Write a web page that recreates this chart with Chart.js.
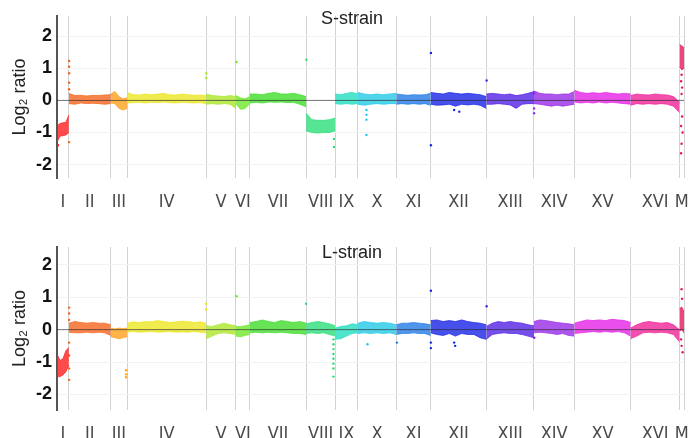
<!DOCTYPE html>
<html>
<head>
<meta charset="utf-8">
<title>S-strain / L-strain</title>
<script src="https://cdn.jsdelivr.net/npm/chart.js@4.4.1/dist/chart.umd.min.js"></script>
<style>
    body { margin: 0; background: #fff; }
    .panel { position: absolute; left: 0; width: 692px; height: 219px; }
    #top { top: 0; }
    #bottom { top: 219px; }
</style>
</head>
<body>
<div class="panel" id="top"><canvas id="chartS"></canvas></div>
<div class="panel" id="bottom"><canvas id="chartL"></canvas></div>
<script>
// Cromosomas de levadura (tamaño en kb)
const chromNames = ['I', 'II', 'III', 'IV', 'V', 'VI', 'VII', 'VIII', 'IX', 'X', 'XI', 'XII', 'XIII', 'XIV', 'XV', 'XVI', 'M'];
const chromSizes = [230, 813, 317, 1532, 577, 270, 1091, 563, 440, 746, 667, 1078, 924, 784, 1091, 948, 86];
const yTicks = [-2, -1, 0, 1, 2];

// S-strain: borde superior / inferior de la nube de puntos por cromosoma (log2 ratio)
const sHigh = [
    [-0.8, -0.72, -0.7, -0.68, -0.45],
    [0.22, 0.15, 0.16, 0.14, 0.16, 0.15, 0.17, 0.18],
    [0.2, 0.28, 0.12, 0.05, 0.08],
    [0.25, 0.18, 0.17, 0.2, 0.18, 0.2, 0.22, 0.18, 0.17, 0.2, 0.18, 0.16, 0.17, 0.15],
    [0.2, 0.15, 0.14, 0.12, 0.15, 0.12],
    [0.15, 0.08, 0.05, 0.12],
    [0.2, 0.2, 0.18, 0.22, 0.25, 0.2, 0.2, 0.22, 0.18, 0.12],
    [-0.4, -0.6, -0.62, -0.62, -0.6, -0.55],
    [0.2, 0.18, 0.22, 0.25, 0.2],
    [0.25, 0.2, 0.18, 0.2, 0.18, 0.2, 0.22],
    [0.2, 0.18, 0.16, 0.18, 0.17, 0.18, 0.22],
    [0.25, 0.22, 0.2, 0.25, 0.22, 0.2, 0.22, 0.2, 0.18, 0.12],
    [0.2, 0.22, 0.2, 0.18, 0.2, 0.15, 0.18, 0.22, 0.28],
    [0.3, 0.22, 0.2, 0.2, 0.18, 0.2, 0.2, 0.28],
    [0.32, 0.25, 0.22, 0.24, 0.22, 0.25, 0.22, 0.2, 0.22, 0.2],
    [0.15, 0.2, 0.18, 0.17, 0.2, 0.18, 0.17, 0.12, -0.05],
    [1.75, 1.7, 1.65]
];
const sLow = [
    [-1.3, -1.12, -1.1, -1.08, -1.0],
    [-0.1, -0.12, -0.08, -0.1, -0.09, -0.1, -0.12, -0.1],
    [-0.08, -0.1, -0.25, -0.3, -0.25],
    [-0.08, -0.07, -0.06, -0.08, -0.06, -0.07, -0.05, -0.07, -0.08, -0.06, -0.07, -0.08, -0.07, -0.1],
    [-0.12, -0.1, -0.12, -0.1, -0.12, -0.25],
    [-0.1, -0.28, -0.25, -0.1],
    [-0.08, -0.06, -0.08, -0.05, -0.06, -0.05, -0.07, -0.06, -0.12, -0.2],
    [-0.95, -1.0, -1.02, -1.0, -1.0, -0.95],
    [-0.1, -0.12, -0.1, -0.12, -0.1],
    [-0.12, -0.15, -0.12, -0.1, -0.12, -0.1, -0.1],
    [-0.12, -0.1, -0.12, -0.1, -0.12, -0.1, -0.15],
    [-0.12, -0.15, -0.14, -0.12, -0.18, -0.12, -0.14, -0.12, -0.15, -0.25],
    [-0.12, -0.12, -0.1, -0.12, -0.14, -0.25, -0.12, -0.1, -0.1],
    [-0.1, -0.12, -0.15, -0.18, -0.15, -0.18, -0.15, -0.12],
    [-0.05, -0.08, -0.06, -0.08, -0.05, -0.08, -0.06, -0.08, -0.1, -0.12],
    [-0.15, -0.1, -0.12, -0.1, -0.12, -0.1, -0.12, -0.18, -0.38],
    [1.05, 0.95, 1.0]
];
// puntos sueltos [posición kb, log2 ratio]
const sOutliers = [
    [20, -1.4], [235, 1.23], [235, 1.05], [235, 0.85], [235, 0.55], [235, 0.35], [235, -1.3],
    [2895, 0.85], [2895, 0.7], [3480, 1.2], [4835, 1.27], [5370, -1.2], [5370, -1.45],
    [6000, -0.3], [6000, -0.45], [6000, -0.6], [6000, -1.08],
    [7250, 1.48], [7250, -1.4], [7700, -0.3], [7800, -0.35], [8330, 0.62],
    [9250, 0.22], [9250, -0.25], [9250, -0.4],
    [12110, 0.8], [12100, 0.6], [12120, 0.4], [12110, 0.2], [12120, -0.5], [12100, -0.8],
    [12130, -1.0], [12110, -1.35], [12100, -1.65]
];

// L-strain
const lHigh = [
    [-0.75, -0.95, -0.9, -0.65, -0.55],
    [0.2, 0.25, 0.22, 0.2, 0.22, 0.2, 0.2, 0.15],
    [0.05, 0.02, 0.05, 0.03, 0.05],
    [0.2, 0.24, 0.22, 0.25, 0.24, 0.28, 0.25, 0.22, 0.24, 0.26, 0.25, 0.22, 0.24, 0.2],
    [0.12, 0.1, 0.15, 0.2, 0.15, 0.12],
    [0.1, 0.1, 0.12, 0.15],
    [0.22, 0.25, 0.3, 0.25, 0.22, 0.28, 0.25, 0.22, 0.25, 0.2],
    [0.18, 0.22, 0.25, 0.22, 0.18, 0.12],
    [0.05, 0.1, 0.12, 0.18, 0.15],
    [0.2, 0.25, 0.22, 0.2, 0.22, 0.2, 0.15],
    [0.15, 0.2, 0.2, 0.22, 0.2, 0.18, 0.15],
    [0.28, 0.3, 0.25, 0.28, 0.25, 0.3, 0.25, 0.22, 0.2, 0.15],
    [0.1, 0.2, 0.25, 0.22, 0.25, 0.22, 0.2, 0.15, 0.12],
    [0.25, 0.3, 0.28, 0.25, 0.22, 0.2, 0.18, 0.15],
    [0.2, 0.25, 0.3, 0.28, 0.3, 0.28, 0.32, 0.3, 0.28, 0.22],
    [0.05, 0.15, 0.22, 0.25, 0.22, 0.2, 0.22, 0.15, 0.0],
    [0.65, 0.7, 0.55]
];
const lLow = [
    [-1.45, -1.45, -1.4, -1.3, -1.1],
    [-0.08, -0.1, -0.1, -0.08, -0.1, -0.08, -0.1, -0.18],
    [-0.22, -0.25, -0.28, -0.25, -0.22],
    [-0.08, -0.06, -0.08, -0.07, -0.06, -0.08, -0.07, -0.06, -0.08, -0.07, -0.08, -0.06, -0.08, -0.1],
    [-0.28, -0.2, -0.12, -0.1, -0.12, -0.15],
    [-0.2, -0.22, -0.18, -0.15],
    [-0.1, -0.08, -0.1, -0.08, -0.1, -0.08, -0.1, -0.12, -0.12, -0.15],
    [-0.12, -0.1, -0.12, -0.1, -0.15, -0.2],
    [-0.3, -0.28, -0.2, -0.12, -0.1],
    [-0.12, -0.1, -0.12, -0.1, -0.12, -0.1, -0.15],
    [-0.15, -0.12, -0.12, -0.1, -0.12, -0.12, -0.18],
    [-0.1, -0.15, -0.18, -0.12, -0.2, -0.12, -0.15, -0.15, -0.25, -0.3],
    [-0.3, -0.15, -0.12, -0.1, -0.12, -0.12, -0.15, -0.2, -0.25],
    [-0.1, -0.08, -0.1, -0.12, -0.15, -0.12, -0.18, -0.2],
    [-0.12, -0.1, -0.08, -0.06, -0.08, -0.06, -0.08, -0.06, -0.1, -0.2],
    [-0.28, -0.2, -0.1, -0.08, -0.1, -0.08, -0.1, -0.15, -0.38],
    [-0.05, 0.0, -0.1]
];
const lOutliers = [
    [235, 0.68], [235, 0.5], [235, 0.3], [235, -0.4], [235, -0.8], [235, -1.2], [235, -1.55],
    [1340, -1.25], [1340, -1.38], [1340, -1.47], [2890, 0.8], [2890, 0.62], [3480, 1.03], [4830, 0.8],
    [5360, -0.3], [5360, -0.45], [5360, -0.6], [5360, -0.75], [5360, -0.9], [5360, -1.05], [5360, -1.2], [5360, -1.45],
    [6020, -0.45], [6590, -0.4], [7250, 1.2], [7250, -0.4], [7250, -0.57], [7700, -0.4], [7720, -0.5],
    [8330, 0.72], [9255, -0.25],
    [12110, 1.25], [12120, 0.95], [12100, -0.3], [12110, -0.5], [12130, -0.7]
];

// Colores arcoíris por cromosoma
const chromColors = ['#ff1a1a', '#f5641a', '#ffa01a', '#ece61e', '#aae628', '#6ee628', '#3cdc28', '#28dc78',
    '#1edcbe', '#1ec8e6', '#1e78e6', '#1420e6', '#501ee6', '#9628e6', '#e61ee6', '#f01e96', '#e6145a'];

const chromStarts = [];
let acc = 0;
chromSizes.forEach(s => { chromStarts.push(acc); acc += s; });
const genomeSize = acc;
const boundaries = chromStarts.concat([genomeSize]);
const midpoints = chromStarts.map((s, i) => s + chromSizes[i] / 2);

function chromIndex(kb) {
    for (let i = chromStarts.length - 1; i >= 0; i--) {
        if (kb >= chromStarts[i]) return i;
    }
    return 0;
}

// reparte los valores a lo largo del cromosoma
function bandPoints(values, c) {
    const n = values.length;
    return values.map((v, i) => ({ x: chromStarts[c] + chromSizes[c] * i / (n - 1), y: v }));
}

function buildDatasets(high, low, outliers) {
    const ds = [];
    high.forEach((hv, c) => {
        ds.push({ data: bandPoints(hv, c), borderColor: chromColors[c] + 'b0', backgroundColor: chromColors[c] + 'c8',
            borderWidth: 1, pointRadius: 0, fill: '+1', tension: 0 });
        ds.push({ data: bandPoints(low[c], c), borderColor: chromColors[c] + 'b0', borderWidth: 1,
            pointRadius: 0, fill: false, tension: 0 });
    });
    ds.push({
        data: outliers.map(([x, y]) => ({ x, y })),
        showLine: false, pointRadius: 1.2, pointBorderWidth: 0,
        pointBackgroundColor: outliers.map(([x]) => chromColors[chromIndex(x)])
    });
    // linea del cero
    ds.push({ data: [{ x: 0, y: 0 }, { x: genomeSize, y: 0 }], borderColor: 'rgba(40,40,40,0.65)',
        borderWidth: 1, pointRadius: 0, fill: false, order: -1 });
    return ds;
}

const panelLabel = {
    id: 'panelLabel',
    afterDatasetsDraw(chart, args, opts) {
        const ctx = chart.ctx;
        ctx.save();
        ctx.font = '18px "Liberation Sans", Arial, sans-serif';
        ctx.fillStyle = '#222';
        ctx.textAlign = 'center';
        ctx.textBaseline = 'middle';
        ctx.fillText(opts.text, opts.x, opts.y);
        ctx.restore();
    }
};

const narrowFont = '"Liberation Sans Narrow", "DejaVu Sans Condensed", "Liberation Sans", Arial, sans-serif';
const sansFont = '"Liberation Sans", Arial, sans-serif';

function makeChart(id, datasets, yMin, yMax, padTop, xHeight, label, labelY) {
    return new Chart(document.getElementById(id), {
        type: 'line',
        data: { datasets },
        plugins: [panelLabel],
        options: {
            responsive: true,
            maintainAspectRatio: false,
            animation: false,
            layout: { padding: { top: padTop, right: 8, left: 0, bottom: 0 } },
            plugins: {
                legend: { display: false },
                tooltip: { enabled: false },
                panelLabel: { text: label, x: 352, y: labelY }
            },
            scales: {
                x: {
                    type: 'linear', min: 0, max: genomeSize,
                    afterBuildTicks: s => { s.ticks = midpoints.map(v => ({ value: v })); },
                    afterFit: s => { s.height = xHeight; s.paddingLeft = 0; s.paddingRight = 0; },
                    grid: { display: false },
                    border: { display: false },
                    ticks: {
                        autoSkip: false, maxRotation: 0, minRotation: 0, padding: 6, color: '#4a4a4a',
                        font: { family: narrowFont, size: 18 },
                        callback: (v, i) => chromNames[i]
                    }
                },
                xb: {
                    type: 'linear', position: 'bottom', min: 0, max: genomeSize,
                    afterBuildTicks: s => { s.ticks = boundaries.map(v => ({ value: v })); },
                    afterFit: s => { s.height = 0; s.paddingLeft = 0; s.paddingRight = 0; },
                    grid: { color: '#d2d2d2', lineWidth: 1, drawTicks: false },
                    border: { display: false },
                    ticks: { display: false }
                },
                y: {
                    min: yMin, max: yMax,
                    afterBuildTicks: s => { s.ticks = yTicks.map(v => ({ value: v })); },
                    afterFit: s => { s.width = 57; },
                    border: { display: true, color: '#555', width: 2 },
                    grid: { drawTicks: false, color: ctx => ctx.tick.value === 0 ? 'rgba(0,0,0,0)' : '#f2f2f2' },
                    ticks: { padding: 5, color: '#111', font: { family: sansFont, size: 18, weight: 'bold' } },
                    title: {
                        display: true, text: 'Log₂ ratio', color: '#222',
                        font: { family: sansFont, size: 18 }, padding: { top: 9, bottom: 0 }
                    }
                }
            }
        }
    });
}

makeChart('chartS', buildDatasets(sHigh, sLow, sOutliers), -2.42, 2.64, 14, 41, 'S-strain', 19);
makeChart('chartL', buildDatasets(lHigh, lLow, lOutliers), -2.48, 2.55, 28, 28, 'L-strain', 34.5);
</script>
</body>
</html>
